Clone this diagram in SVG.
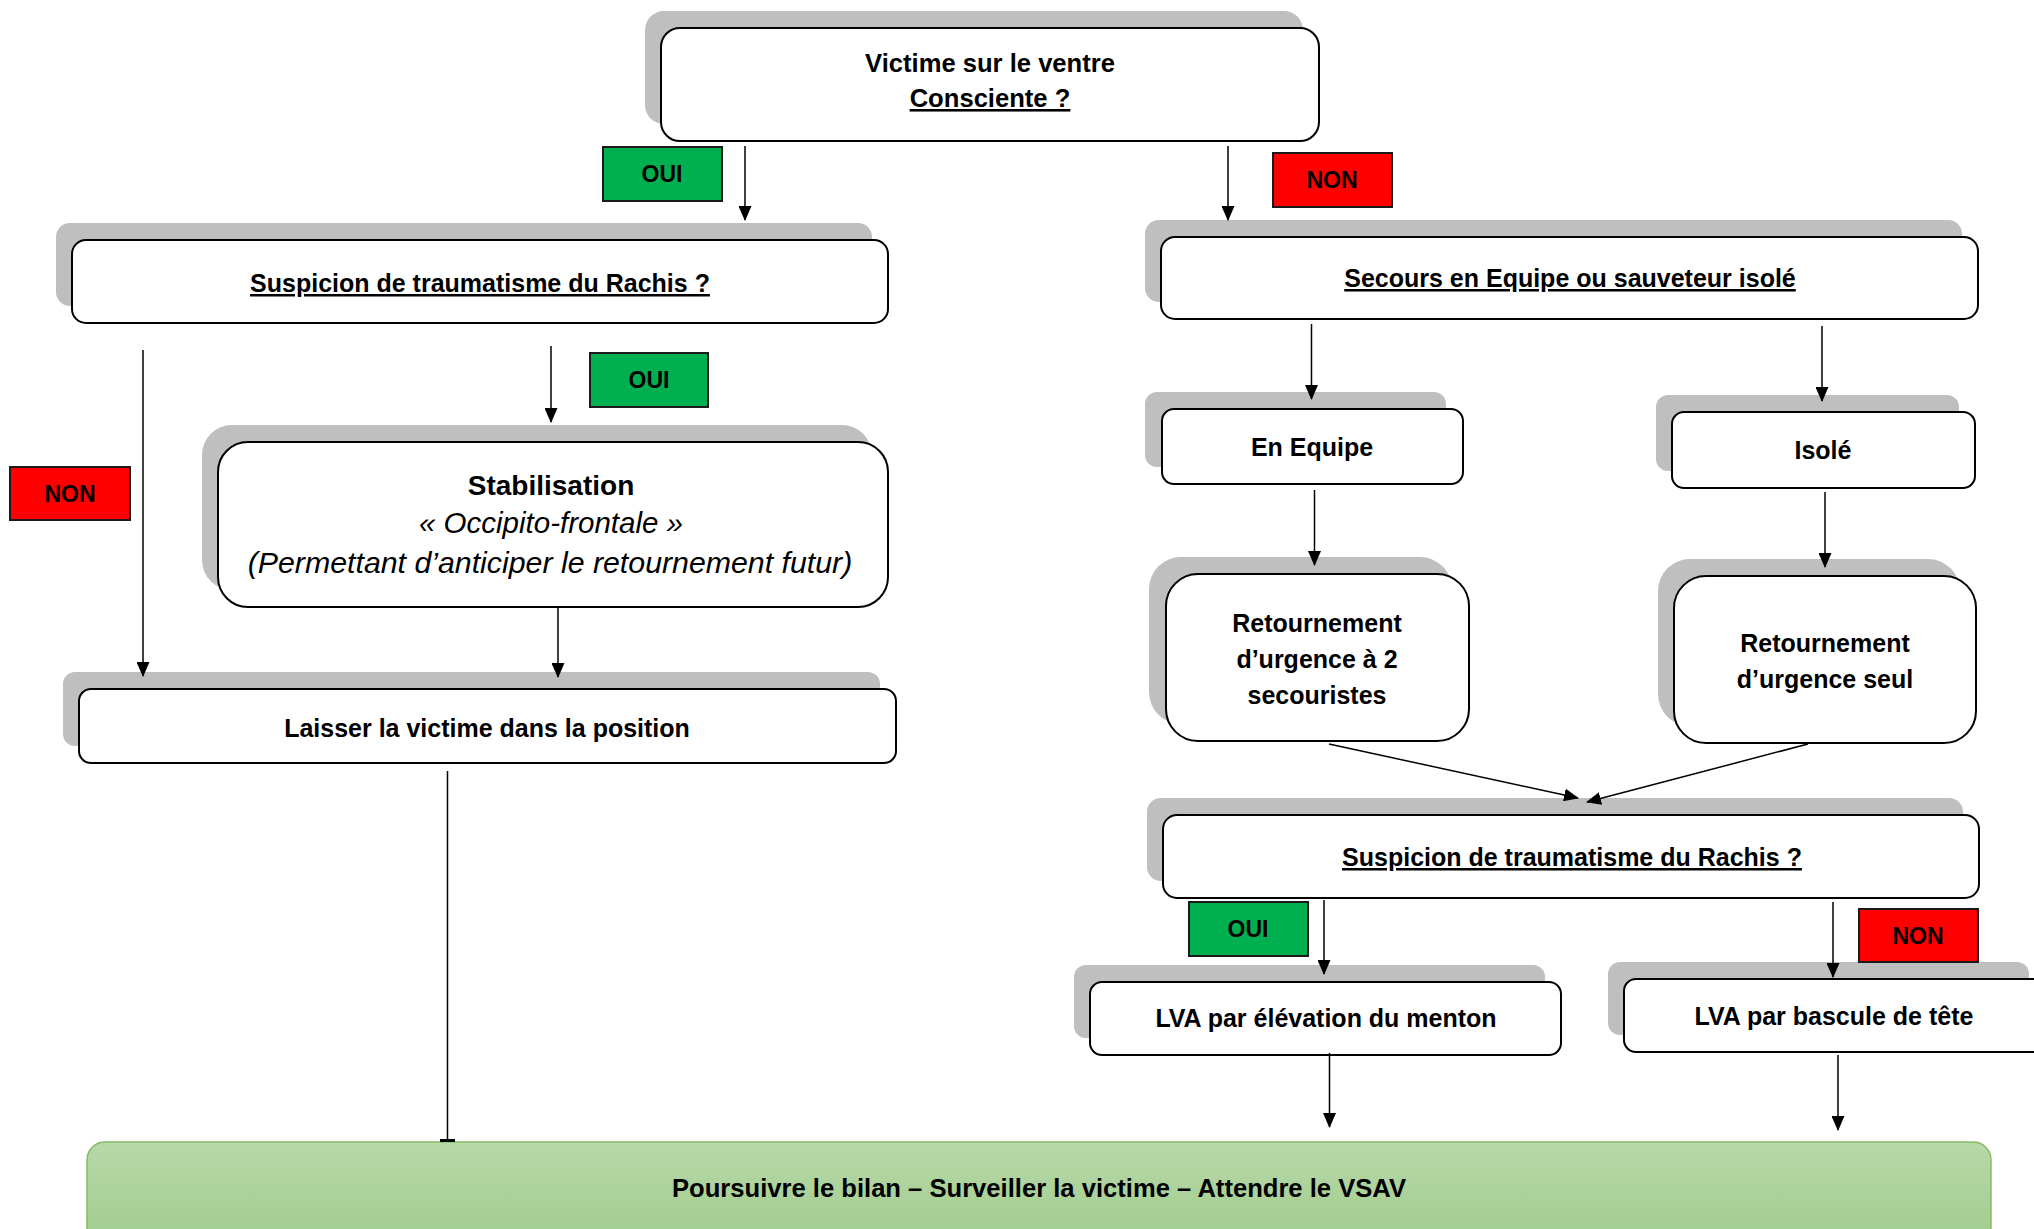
<svg xmlns="http://www.w3.org/2000/svg" width="2034" height="1229" viewBox="0 0 2034 1229">
<style>
.sh{fill:#BFBFBF;}
.box{fill:#FFFFFF;stroke:#000000;stroke-width:2;}
.t{font-family:"Liberation Sans",Arial,sans-serif;font-weight:bold;font-size:25px;fill:#000;text-anchor:middle;}
.u{text-decoration:underline;}
.it{font-family:"Liberation Sans",Arial,sans-serif;font-style:italic;font-size:29.5px;fill:#000;text-anchor:middle;}
.lbl{font-family:"Liberation Sans",Arial,sans-serif;font-weight:bold;font-size:23px;fill:#000;text-anchor:middle;}
.oui{fill:#00B050;stroke:#1A1A1A;stroke-width:2;}
.non{fill:#FF0000;stroke:#1A1A1A;stroke-width:2;}
.c{stroke:#000;stroke-width:1.5;fill:none;marker-end:url(#ah);}
</style>
<defs>
<marker id="ah" markerUnits="userSpaceOnUse" markerWidth="15" markerHeight="13" refX="14" refY="6.5" orient="auto">
<path d="M0,0 L15,6.5 L0,13 z" fill="#000"/>
</marker>
<linearGradient id="gg" x1="0" y1="0" x2="0" y2="1">
<stop offset="0" stop-color="#B7D8A9"/>
<stop offset="1" stop-color="#9BC985"/>
</linearGradient>
</defs>
<rect width="2034" height="1229" fill="#FFFFFF"/>

<g id="n-top">
<rect class="sh" x="645" y="11" width="658" height="113" rx="19"/>
<rect class="box" x="661" y="28" width="658" height="113" rx="19"/>
<text class="t" style="font-size:25.6px" x="990" y="72">Victime sur le ventre</text>
<text class="t u" style="font-size:25.6px" x="990" y="107">Consciente ?</text>
</g>

<g id="n-susp-left">
<rect class="sh" x="56" y="223" width="816" height="83" rx="14"/>
<rect class="box" x="72" y="240" width="816" height="83" rx="14"/>
<text class="t u" x="480" y="292">Suspicion de traumatisme du Rachis ?</text>
</g>

<g id="n-stab">
<rect class="sh" x="202" y="425" width="670" height="165" rx="30"/>
<rect class="box" x="218" y="442" width="670" height="165" rx="30"/>
<text class="t" style="font-size:28px" x="551" y="495">Stabilisation</text>
<text class="it" x="551" y="533">« Occipito-frontale »</text>
<text class="it" style="font-size:30.3px" x="550" y="573">(Permettant d’anticiper le retournement futur)</text>
</g>

<g id="n-laisser">
<rect class="sh" x="63" y="672" width="817" height="74" rx="12"/>
<rect class="box" x="79" y="689" width="817" height="74" rx="12"/>
<text class="t" x="487" y="737">Laisser la victime dans la position</text>
</g>

<g id="n-secours">
<rect class="sh" x="1145" y="220" width="817" height="82" rx="14"/>
<rect class="box" x="1161" y="237" width="817" height="82" rx="14"/>
<text class="t u" x="1570" y="287">Secours en Equipe ou sauveteur isolé</text>
</g>

<g id="n-equipe">
<rect class="sh" x="1145" y="392" width="301" height="75" rx="12"/>
<rect class="box" x="1162" y="409" width="301" height="75" rx="12"/>
<text class="t" x="1312" y="456">En Equipe</text>
</g>

<g id="n-isole">
<rect class="sh" x="1656" y="395" width="303" height="76" rx="12"/>
<rect class="box" x="1672" y="412" width="303" height="76" rx="12"/>
<text class="t" x="1823" y="459">Isolé</text>
</g>

<g id="n-ret2">
<rect class="sh" x="1149" y="557" width="303" height="167" rx="32"/>
<rect class="box" x="1166" y="574" width="303" height="167" rx="32"/>
<text class="t" x="1317" y="632">Retournement</text>
<text class="t" x="1317" y="668">d’urgence à 2</text>
<text class="t" x="1317" y="704">secouristes</text>
</g>

<g id="n-retseul">
<rect class="sh" x="1658" y="559" width="302" height="167" rx="32"/>
<rect class="box" x="1674" y="576" width="302" height="167" rx="32"/>
<text class="t" x="1825" y="652">Retournement</text>
<text class="t" x="1825" y="688">d’urgence seul</text>
</g>

<g id="n-susp-right">
<rect class="sh" x="1147" y="798" width="816" height="83" rx="14"/>
<rect class="box" x="1163" y="815" width="816" height="83" rx="14"/>
<text class="t u" x="1572" y="866">Suspicion de traumatisme du Rachis ?</text>
</g>

<g id="n-lva-elev">
<rect class="sh" x="1074" y="965" width="471" height="73" rx="12"/>
<rect class="box" x="1090" y="982" width="471" height="73" rx="12"/>
<text class="t" x="1326" y="1027">LVA par élévation du menton</text>
</g>

<g id="n-lva-basc">
<rect class="sh" x="1608" y="962" width="421" height="73" rx="12"/>
<rect class="box" x="1624" y="979" width="421" height="73" rx="12"/>
<text class="t" x="1834" y="1025">LVA par bascule de tête</text>
</g>

<g id="n-final">
<rect x="87" y="1142" width="1904" height="130" rx="18" fill="url(#gg)" stroke="#86BC66" stroke-width="1.5"/>
<text class="t" style="font-size:25.6px" x="1039" y="1197">Poursuivre le bilan – Surveiller la victime – Attendre le VSAV</text>
</g>

<g id="labels">
<rect class="oui" x="603" y="147" width="119" height="54"/>
<text class="lbl" x="662" y="182">OUI</text>
<rect class="non" x="1273" y="153" width="119" height="54"/>
<text class="lbl" x="1332" y="188">NON</text>
<rect class="non" x="10" y="467" width="120" height="53"/>
<text class="lbl" x="70" y="502">NON</text>
<rect class="oui" x="590" y="353" width="118" height="54"/>
<text class="lbl" x="649" y="388">OUI</text>
<rect class="oui" x="1189" y="902" width="119" height="54"/>
<text class="lbl" x="1248" y="937">OUI</text>
<rect class="non" x="1859" y="909" width="119" height="53"/>
<text class="lbl" x="1918" y="944">NON</text>
</g>

<g id="connectors">
<path class="c" d="M745,146 L745,220"/>
<path class="c" d="M1228,146 L1228,220"/>
<path class="c" d="M143,350 L143,676"/>
<path class="c" d="M551,346 L551,422"/>
<path class="c" d="M558,607 L558,677"/>
<path d="M447.5,771 L447.5,1140" stroke="#000" stroke-width="1.5" fill="none"/>
<rect x="440" y="1139" width="15" height="3" fill="#000"/>
<path class="c" d="M1311.5,324 L1311.5,399"/>
<path class="c" d="M1822,326 L1822,401"/>
<path class="c" d="M1314.5,490 L1314.5,565"/>
<path class="c" d="M1825,492 L1825,567"/>
<path class="c" d="M1329,744 L1578,798"/>
<path class="c" d="M1808,744 L1587,802"/>
<path class="c" d="M1324,900 L1324,974"/>
<path class="c" d="M1833,902 L1833,977"/>
<path class="c" d="M1329.5,1053 L1329.5,1127"/>
<path class="c" d="M1838,1055 L1838,1130"/>
</g>
</svg>
